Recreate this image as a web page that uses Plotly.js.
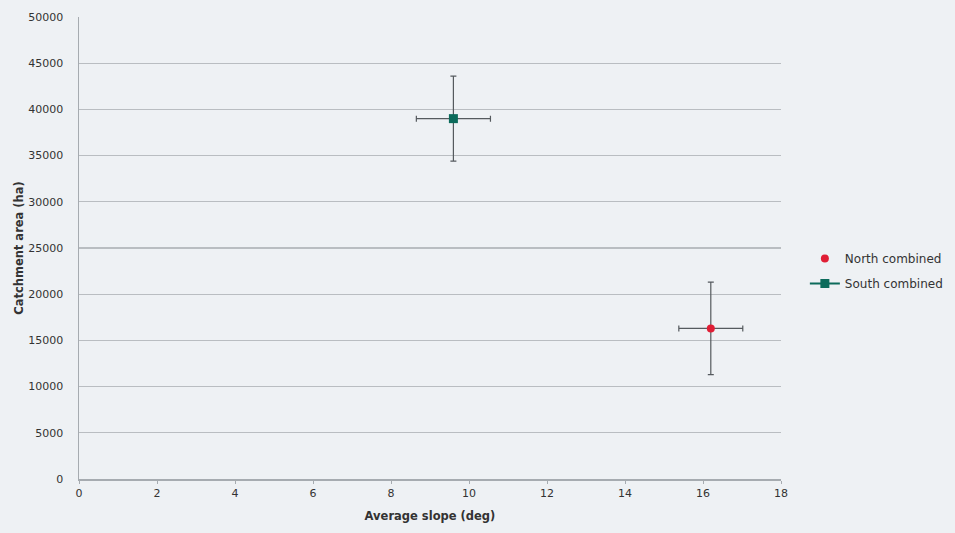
<!DOCTYPE html>
<html>
<head>
<meta charset="utf-8">
<script src="https://cdn.plot.ly/plotly-3.0.1.min.js"></script>
<style>html,body{margin:0;padding:0;background:#eef1f4;}</style>
</head>
<body>
<div id="chart" style="width:955px;height:533px;"></div>
<script>
const seriesNames = ["North combined", "South combined"];
const northX = [16.2];
const northY = [16300];
const northXErr = [0.82];
const northYErr = [5000];
const southX = [9.6];
const southY = [39000];
const southXErr = [0.95];
const southYErr = [4600];
const xTicks = [0, 2, 4, 6, 8, 10, 12, 14, 16, 18];
const yTicks = [0, 5000, 10000, 15000, 20000, 25000, 30000, 35000, 40000, 45000, 50000];

const errStyle = {color: '#555a5e', thickness: 1.2, width: 3};

const traces = [
  {
    x: northX, y: northY, name: seriesNames[0], type: 'scatter', mode: 'markers',
    legendgroup: 'n',
    marker: {symbol: 'circle', size: 8, color: '#e01e35'},
    error_x: Object.assign({type: 'data', array: northXErr, visible: true}, errStyle),
    error_y: Object.assign({type: 'data', array: northYErr, visible: true}, errStyle)
  },
  {
    x: southX, y: southY, name: seriesNames[1], type: 'scatter', mode: 'lines+markers',
    legendgroup: 's',
    line: {color: '#0c6b5b', width: 2},
    marker: {symbol: 'square', size: 9, color: '#0c6b5b'},
    error_x: Object.assign({type: 'data', array: southXErr, visible: true}, errStyle),
    error_y: Object.assign({type: 'data', array: southYErr, visible: true}, errStyle)
  }
];

const layout = {
  width: 955, height: 533,
  paper_bgcolor: '#eef1f4', plot_bgcolor: '#eef1f4',
  margin: {l: 79, r: 174, t: 17, b: 54, autoexpand: false},
  font: {family: 'DejaVu Sans', size: 11, color: '#333'},
  showlegend: true,
  legend: {x: 1.034, xanchor: 'left', y: 0.45, yanchor: 'middle', bgcolor: 'rgba(0,0,0,0)',
           font: {family: 'DejaVu Sans', size: 12, color: '#333'}, tracegroupgap: 6},
  xaxis: {
    range: [0, 18], tickvals: xTicks, ticktext: xTicks.map(String),
    showgrid: false, zeroline: false, showline: true, linecolor: '#a6abb0', linewidth: 1.5,
    ticks: 'outside', ticklen: 3, tickcolor: '#a6abb0',
    tickfont: {size: 11, color: '#333'}, automargin: false,
    title: {text: '<b>Average slope (deg)</b>', font: {size: 11.5, color: '#333'}, standoff: 13}
  },
  yaxis: {
    range: [0, 50000], tickvals: yTicks, ticktext: yTicks.map(String),
    showgrid: true, gridcolor: '#b9bdc1', gridwidth: 1.2, zeroline: false,
    showline: true, linecolor: '#a6abb0', linewidth: 1.5,
    ticks: '', ticklabelstandoff: 12, automargin: false,
    tickfont: {size: 11, color: '#333'},
    title: {text: '<b>Catchment area (ha)</b>', font: {size: 11.5, color: '#333'}, standoff: 2}
  }
};

Plotly.newPlot('chart', traces, layout, {displayModeBar: false, staticPlot: true});
</script>
</body>
</html>
